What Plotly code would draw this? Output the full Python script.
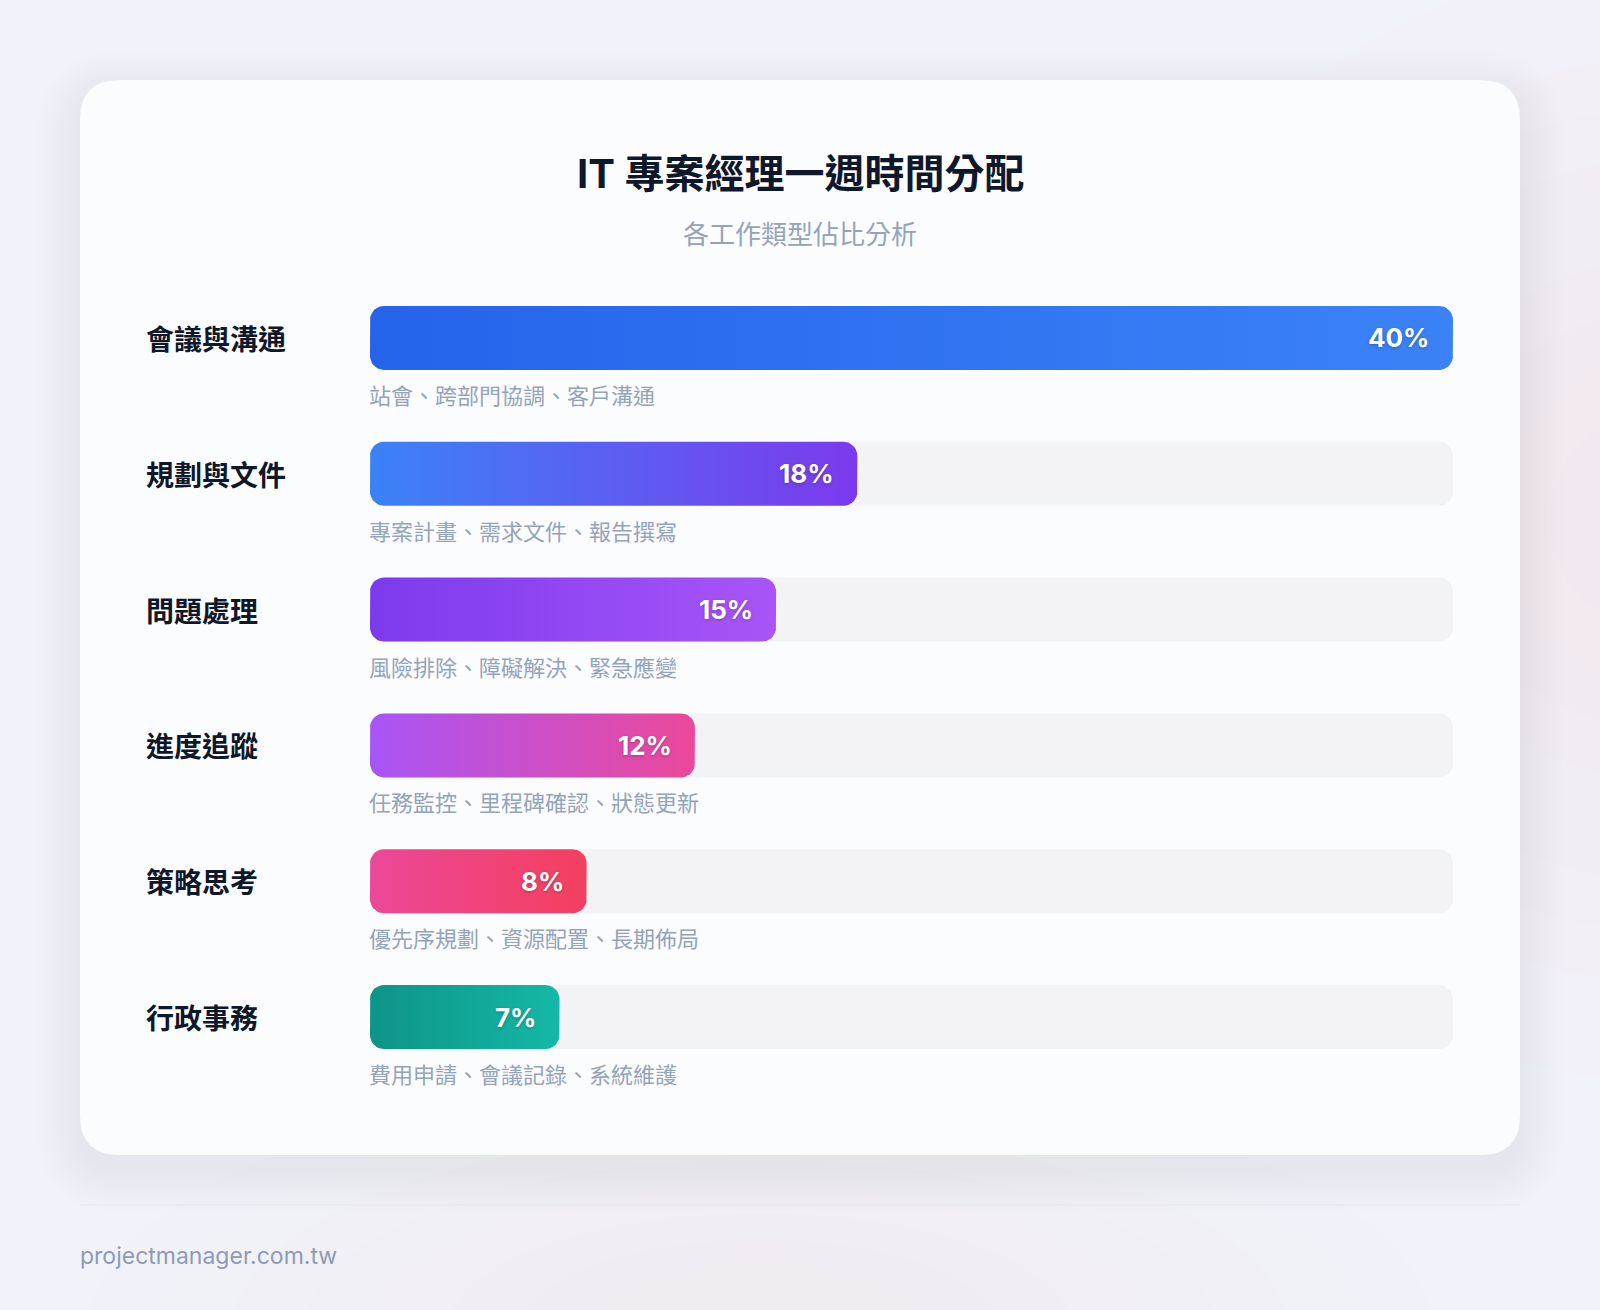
import numpy as np
import plotly.graph_objects as go

# ---------------- data ----------------
categories = ["會議與溝通", "規劃與文件", "問題處理", "進度追蹤", "策略思考", "行政事務"]
shares = [40, 18, 15, 12, 8, 7]
details = [
    "站會、跨部門協調、客戶溝通",
    "專案計畫、需求文件、報告撰寫",
    "風險排除、障礙解決、緊急應變",
    "任務監控、里程碑確認、狀態更新",
    "優先序規劃、資源配置、長期佈局",
    "費用申請、會議記錄、系統維護",
]
title_text = "IT 專案經理一週時間分配"
subtitle_text = "各工作類型佔比分析"
footer_text = "projectmanager.com.tw"

# ---------------- styles ----------------
grad_start = ["#2563eb", "#3b82f6", "#7c3aed", "#a855f7", "#ec4899", "#0d9488"]
grad_end = ["#3b82f6", "#7c3aed", "#a855f7", "#ec4899", "#f43f5e", "#14b8a6"]
TRACK = "#f3f3f6"
CJK = "Noto Sans CJK TC"
LATIN = "Inter"

W, H = 1600, 1310
ML, MR, MT, MB = 370, 147, 270, 225
PW, PH = W - ML - MR, H - MT - MB
XMAX = max(shares)
N = len(categories)
KX = PW / XMAX          # px per x unit
KY = PH / N             # px per category row
BAR_HALF = 32           # px
BAR_R = 14              # px corner radius


def px2x(px):
    return (px - ML) / PW


def py2y(py):
    return (H - MB - py) / PH


def rounded_bar(x0, x1, yc, n=10):
    rx = min(BAR_R / KX, (x1 - x0) / 2)
    ry = BAR_R / KY
    hh = BAR_HALF / KY
    t = np.linspace(0, np.pi / 2, n)
    xs, ys = [], []
    cx, cy = x1 - rx, yc - hh + ry
    xs += list(cx + rx * np.sin(t)); ys += list(cy - ry * np.cos(t))
    cx, cy = x1 - rx, yc + hh - ry
    xs += list(cx + rx * np.cos(t)); ys += list(cy + ry * np.sin(t))
    cx, cy = x0 + rx, yc + hh - ry
    xs += list(cx - rx * np.sin(t)); ys += list(cy + ry * np.cos(t))
    cx, cy = x0 + rx, yc - hh + ry
    xs += list(cx - rx * np.cos(t)); ys += list(cy - ry * np.sin(t))
    xs.append(xs[0]); ys.append(ys[0])
    return xs, ys


def rrect_path(x0, y0, x1, y1, r):
    X = px2x; Y = py2y
    p = [
        f"M{X(x0 + r)},{Y(y0)}",
        f"L{X(x1 - r)},{Y(y0)}",
        f"Q{X(x1)},{Y(y0)} {X(x1)},{Y(y0 + r)}",
        f"L{X(x1)},{Y(y1 - r)}",
        f"Q{X(x1)},{Y(y1)} {X(x1 - r)},{Y(y1)}",
        f"L{X(x0 + r)},{Y(y1)}",
        f"Q{X(x0)},{Y(y1)} {X(x0)},{Y(y1 - r)}",
        f"L{X(x0)},{Y(y0 + r)}",
        f"Q{X(x0)},{Y(y0)} {X(x0 + r)},{Y(y0)}",
        "Z",
    ]
    return " ".join(p)


fig = go.Figure()

for i, (cat, v) in enumerate(zip(categories, shares)):
    tx, ty = rounded_bar(0, XMAX, i)
    fig.add_trace(go.Scatter(
        x=tx, y=ty, mode="lines", fill="toself", fillcolor=TRACK,
        line=dict(width=0, color="rgba(0,0,0,0)"), hoverinfo="skip", showlegend=False,
    ))
    bx, by = rounded_bar(0, v, i)
    fig.add_trace(go.Scatter(
        x=bx, y=by, mode="lines", fill="toself",
        fillgradient=dict(type="horizontal", colorscale=[[0, grad_start[i]], [1, grad_end[i]]]),
        line=dict(width=0, color="rgba(0,0,0,0)"), name=cat,
        hovertemplate=f"{cat}: {v}%<extra></extra>", showlegend=False,
    ))

annotations = []
for i, (cat, v, d) in enumerate(zip(categories, shares, details)):
    annotations.append(dict(
        x=px2x(144), xref="paper", y=i, yref="y", text=f"<b>{cat}</b>",
        xanchor="left", yanchor="middle", showarrow=False,
        font=dict(family=CJK, size=28, color="#0f172a"),
    ))
    annotations.append(dict(
        x=v, xref="x", y=i, yref="y", text=f"<b>{v}%</b>",
        xanchor="right", yanchor="middle", xshift=-21, showarrow=False,
        font=dict(family=LATIN, size=26, color="#ffffff",
                  shadow="0px 1px 3px rgba(0,0,0,0.25)"),
    ))
    annotations.append(dict(
        x=0, xref="x", y=i, yref="y", text=d, yshift=-56, xshift=-3,
        xanchor="left", yanchor="middle", showarrow=False,
        font=dict(family=CJK, size=22, color="#94a3b8"),
    ))

annotations.append(dict(
    x=px2x(800), xref="paper", y=py2y(173), yref="paper", text=f"<b>{title_text}</b>",
    xanchor="center", yanchor="middle", showarrow=False,
    font=dict(family=f"{LATIN}, {CJK}", size=40, color="#0f172a"),
))
annotations.append(dict(
    x=px2x(800), xref="paper", y=py2y(232), yref="paper", text=subtitle_text,
    xanchor="center", yanchor="middle", showarrow=False,
    font=dict(family=CJK, size=26, color="#94a3b8"),
))
annotations.append(dict(
    x=px2x(78), xref="paper", y=py2y(1256), yref="paper", text=footer_text,
    xanchor="left", yanchor="middle", showarrow=False,
    font=dict(family=LATIN, size=23, color="#8e9bb2"),
))

shapes = []
# soft background glows
for k in range(10):
    r = 560 - k * 50
    shapes.append(dict(type="circle", xref="paper", yref="paper", layer="below",
                       x0=px2x(1660 - r), x1=px2x(1660 + r), y0=py2y(520 + r), y1=py2y(520 - r),
                       fillcolor="rgba(252,226,243,0.07)", line=dict(width=0)))
for k in range(8):
    r = 420 - k * 45
    shapes.append(dict(type="circle", xref="paper", yref="paper", layer="below",
                       x0=px2x(760 - 1.6 * r), x1=px2x(760 + 1.6 * r), y0=py2y(1330 + r * 0.6), y1=py2y(1330 - r * 0.6),
                       fillcolor="rgba(252,232,244,0.05)", line=dict(width=0)))
# card shadow
for k in range(12, 0, -1):
    e = k * 3.5
    shapes.append(dict(type="path", xref="paper", yref="paper", layer="below",
                       path=rrect_path(80 - e, 80 - e + 14, 1520 + e, 1155 + e + 14, 40 + e),
                       fillcolor="rgba(110,115,160,0.0065)", line=dict(width=0)))
# card
shapes.append(dict(type="path", xref="paper", yref="paper", layer="below",
                   path=rrect_path(80, 80, 1520, 1155, 40),
                   fillcolor="#fbfcfe", line=dict(width=0)))
# divider
shapes.append(dict(type="line", xref="paper", yref="paper", layer="below",
                   x0=px2x(80), x1=px2x(1520), y0=py2y(1205), y1=py2y(1205),
                   line=dict(color="#e7e8f0", width=1.5)))

fig.update_layout(
    width=W, height=H,
    margin=dict(l=ML, r=MR, t=MT, b=MB, pad=0),
    paper_bgcolor="#f1f3fa", plot_bgcolor="rgba(0,0,0,0)",
    xaxis=dict(range=[0, XMAX], visible=False, fixedrange=True),
    yaxis=dict(range=[N - 0.5, -0.5], visible=False, fixedrange=True),
    showlegend=False,
    annotations=annotations,
    shapes=shapes,
)

fig.write_html("out.html", include_plotlyjs=True, full_html=True,
               config={"displayModeBar": False},
               post_script="document.body.style.margin='0';document.body.style.overflow='hidden';")
